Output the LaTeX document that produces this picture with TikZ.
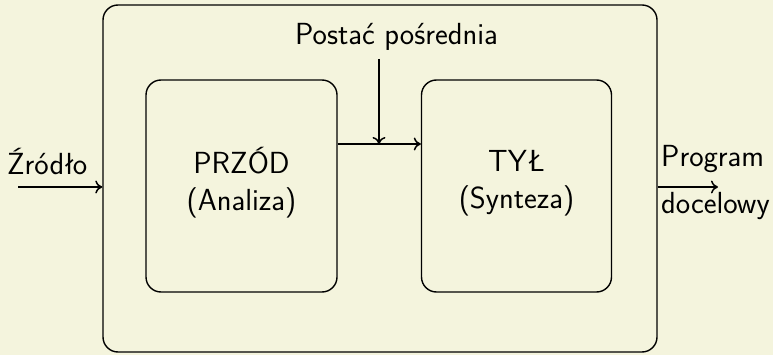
\documentclass[tikz,border=0pt]{standalone}
\usepackage{fontspec}
\usetikzlibrary{arrows.meta}
\definecolor{bgc}{RGB}{244,244,221}
\begin{document}
\begin{tikzpicture}[x=1pt,y=-1pt,
  box/.style={draw=black,line width=1.4pt,rounded corners=15pt,inner sep=0pt},
  lbl/.style={font=\sffamily\fontsize{30.5}{37}\selectfont,inner sep=0pt,align=center},
  arr/.style={-{Computer Modern Rightarrow[length=7pt,width=13pt,line width=1.5pt]},line width=1.6pt}]
\fill[bgc] (0,0) rectangle (773,355);
\useasboundingbox (0,0) rectangle (773,355);
\node[box,minimum width=554pt,minimum height=347pt] (outer) at (380,178.5) {};
\node[box,minimum width=191pt,minimum height=212pt] (left) at (241.5,186) {};
\node[box,minimum width=190pt,minimum height=212pt] (right) at (516.5,186) {};
\node[lbl] (ltxt) at (241.5,183) {PRZÓD\\(Analiza)};
\node[lbl] (rtxt) at (516.5,183) {TYŁ\\(Synteza)};
\node[lbl,anchor=base] (mid) at (396.5,45) {Postać pośrednia};
\coordinate (junc) at (379,144);
\draw[arr] (left.east |- junc) -- (right.west |- junc);
\draw[arr] (junc |- 0,59) -- (junc);
\node[lbl,anchor=base west] (src) at (7,175) {Źródło};
\coordinate (srcstart) at (18,187);
\draw[arr] (srcstart) -- (outer.west |- srcstart);
\coordinate (outend) at (718,187);
\draw[arr] (outer.east |- outend) -- (outend);
\node[lbl,anchor=base west] (prog) at (661,167) {Program};
\node[lbl,anchor=base west] (doc) at (661,214) {docelowy};
\end{tikzpicture}
\end{document}
